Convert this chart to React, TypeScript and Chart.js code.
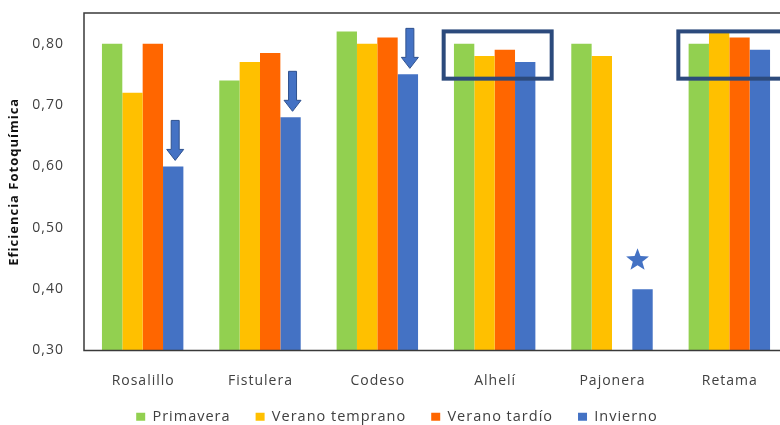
import React, { useEffect, useRef } from 'react';
import { Chart, registerables } from 'chart.js';

Chart.register(...registerables);

// Species and seasons
const categories = ['Rosalillo', 'Fistulera', 'Codeso', 'Alhelí', 'Pajonera', 'Retama'];
const seriesNames = ['Primavera', 'Verano temprano', 'Verano tardío', 'Invierno'];

// Photochemical efficiency per species, one array per season
const primavera = [0.8, 0.74, 0.82, 0.8, 0.8, 0.8];
const veranoTemprano = [0.72, 0.77, 0.8, 0.78, 0.78, 0.82];
const veranoTardio: (number | null)[] = [0.8, 0.785, 0.81, 0.79, null, 0.81];
const invierno = [0.6, 0.68, 0.75, 0.77, 0.4, 0.79];

const seriesColors = ['#92D050', '#FFC000', '#FF6600', '#4472C4'];

// Y axis
const yTickValues = [0.3, 0.4, 0.5, 0.6, 0.7, 0.8];
const yTickLabels = ['0,30', '0,40', '0,50', '0,60', '0,70', '0,80'];
const yMin = 0.3;
const yMax = 0.85;
const yAxisTitle = 'Eficiencia Fotoquímica';

// Highlights: winter drops (arrows), the lowest winter value (star), stable species (boxes)
const arrowCategories = [0, 1, 2];
const starCategories = [4];
const boxedCategories = [3, 5];
const boxTopValue = 0.82;
const boxBottomValue = 0.743;

const FONT = 'Open Sans';
const TEXT = '#404040';

function drawArrow(ctx: CanvasRenderingContext2D, x: number, tipY: number) {
  const len = 40;
  const shaftW = 8;
  const headW = 17;
  const headH = 11;
  const top = tipY - len;
  ctx.beginPath();
  ctx.moveTo(x - shaftW / 2, top);
  ctx.lineTo(x + shaftW / 2, top);
  ctx.lineTo(x + shaftW / 2, tipY - headH);
  ctx.lineTo(x + headW / 2, tipY - headH);
  ctx.lineTo(x, tipY);
  ctx.lineTo(x - headW / 2, tipY - headH);
  ctx.lineTo(x - shaftW / 2, tipY - headH);
  ctx.closePath();
  ctx.fillStyle = '#4472C4';
  ctx.fill();
  ctx.strokeStyle = '#2F528F';
  ctx.lineWidth = 1;
  ctx.stroke();
}

function drawStar(ctx: CanvasRenderingContext2D, cx: number, cy: number, outer: number, inner: number) {
  ctx.beginPath();
  for (let k = 0; k < 10; k++) {
    const r = k % 2 === 0 ? outer : inner;
    const a = -Math.PI / 2 + (k * Math.PI) / 5;
    const px = cx + r * Math.cos(a);
    const py = cy + r * Math.sin(a);
    if (k === 0) ctx.moveTo(px, py);
    else ctx.lineTo(px, py);
  }
  ctx.closePath();
  ctx.fillStyle = '#4472C4';
  ctx.fill();
}

const textSpacing = {
  id: 'textSpacing',
  beforeUpdate(chart: any) {
    chart.ctx.letterSpacing = '1px';
  },
  beforeDraw(chart: any) {
    chart.ctx.letterSpacing = '1px';
  },
};

// Category names under each group, centred on the category position
const categoryLabels = {
  id: 'categoryLabels',
  afterDraw(chart: any) {
    const { ctx, chartArea, scales } = chart;
    ctx.save();
    ctx.letterSpacing = '1px';
    ctx.font = `14px "${FONT}"`;
    ctx.fillStyle = TEXT;
    ctx.textAlign = 'left';
    ctx.textBaseline = 'middle';
    categories.forEach((name, i) => {
      const cx = scales.x.getPixelForValue(i);
      const w = ctx.measureText(name).width - 1;
      ctx.fillText(name, cx - w / 2, chartArea.bottom + 31);
    });
    ctx.restore();
  },
};

const highlights = {
  id: 'highlights',
  afterDatasetsDraw(chart: any) {
    const { ctx, chartArea, scales } = chart;
    const winter = chart.getDatasetMeta(3).data;
    ctx.save();

    for (const i of arrowCategories) {
      const bar = winter[i];
      drawArrow(ctx, bar.x + 2, bar.y - 6);
    }

    for (const i of starCategories) {
      const bar = winter[i];
      drawStar(ctx, bar.x - 5, bar.y - 29, 12, 5);
    }

    ctx.strokeStyle = '#2C4A7C';
    ctx.lineWidth = 4;
    const top = scales.y.getPixelForValue(boxTopValue);
    const bottom = scales.y.getPixelForValue(boxBottomValue);
    for (const i of boxedCategories) {
      const cx = scales.x.getPixelForValue(i);
      ctx.strokeRect(cx - 51, top, 108, bottom - top);
    }

    // plot frame
    ctx.strokeStyle = '#3A3A3A';
    ctx.lineWidth = 1.5;
    ctx.strokeRect(chartArea.left, chartArea.top, chartArea.right - chartArea.left, chartArea.bottom - chartArea.top);
    ctx.restore();
  },
};

export default function App() {
  const ref = useRef<HTMLCanvasElement>(null);

  useEffect(() => {
    const canvas = ref.current;
    if (!canvas) return;
    const values = [primavera, veranoTemprano, veranoTardio, invierno];
    const chart = new Chart(canvas, {
      type: 'bar',
      data: {
        labels: categories,
        datasets: seriesNames.map((name, s) => ({
          label: name,
          data: values[s],
          backgroundColor: seriesColors[s],
          borderWidth: 0,
          categoryPercentage: 0.694,
          barPercentage: 1,
        })),
      },
      options: {
        responsive: false,
        animation: false,
        devicePixelRatio: 1,
        layout: { padding: { top: 13, right: 15, left: 6, bottom: 0 } },
        plugins: {
          legend: {
            position: 'bottom',
            labels: {
              boxWidth: 9,
              boxHeight: 8,
              padding: 25,
              color: TEXT,
              font: { family: FONT, size: 14.5 },
            },
          },
          tooltip: { enabled: false },
        },
        scales: {
          x: {
            grid: { display: false, drawTicks: false },
            border: { display: false },
            ticks: { display: false },
            afterFit(scale: any) {
              scale.height = 34;
            },
          },
          y: {
            min: yMin,
            max: yMax,
            grid: { display: false, drawTicks: false },
            border: { display: false },
            afterBuildTicks(scale: any) {
              scale.ticks = yTickValues.map((v) => ({ value: v }));
            },
            ticks: {
              padding: 20,
              color: TEXT,
              font: { family: FONT, size: 14 },
              callback(value: any) {
                const idx = yTickValues.findIndex((v) => Math.abs(v - Number(value)) < 1e-6);
                return idx >= 0 ? yTickLabels[idx] : '';
              },
            },
            title: {
              display: true,
              text: yAxisTitle,
              color: '#111111',
              font: { family: FONT, size: 13, weight: 'bold' },
              padding: { top: 0, bottom: 0 },
            },
            afterFit(scale: any) {
              scale.width = 78;
              scale.paddingTop = 0;
              scale.paddingBottom = 0;
            },
          },
        },
      },
      plugins: [textSpacing, highlights, categoryLabels],
    } as any);
    return () => chart.destroy();
  }, []);

  return (
    <div
      style={{
        position: 'fixed',
        left: 0,
        top: 0,
        width: 780,
        height: 425,
        overflow: 'hidden',
        background: '#ffffff',
      }}
    >
      <canvas ref={ref} width={803} height={434} style={{ display: 'block', width: 803, height: 434 }} />
    </div>
  );
}
